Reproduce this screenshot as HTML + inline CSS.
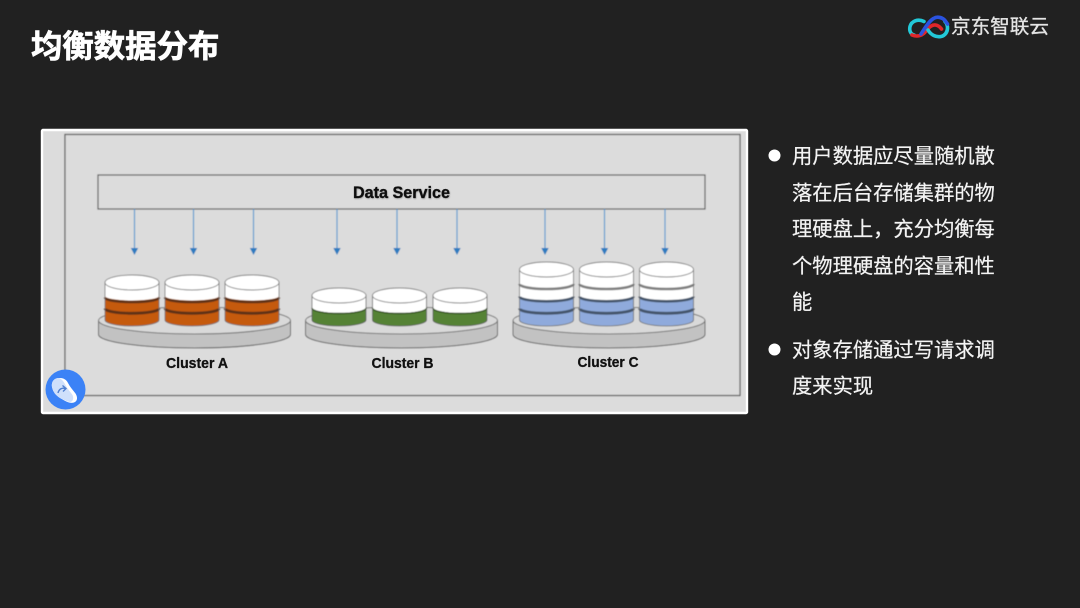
<!DOCTYPE html>
<html lang="zh">
<head>
<meta charset="utf-8">
<title>均衡数据分布</title>
<style>
html,body{margin:0;padding:0;background:#212121;}
body{width:1080px;height:608px;overflow:hidden;position:relative;}
svg{display:block;position:absolute;left:0;top:0;}
.cjk{font-family:"Liberation Sans","Noto Sans CJK SC",sans-serif;}
.lat{font-family:"Liberation Sans",sans-serif;font-weight:700;fill:#111;stroke:#111;stroke-width:.3;}
</style>
</head>
<body>
<svg width="1080" height="608" viewBox="0 0 1080 608" xmlns="http://www.w3.org/2000/svg">
<defs>
<filter id="soft" x="-2%" y="-2%" width="104%" height="104%"><feGaussianBlur stdDeviation="0.4"/></filter>
<filter id="tshadow" x="-10%" y="-30%" width="120%" height="170%"><feDropShadow dx="0.5" dy="0.7" stdDeviation="0.8" flood-color="#000" flood-opacity="0.3"/></filter>
<filter id="tsoft" x="-5%" y="-10%" width="110%" height="120%"><feGaussianBlur stdDeviation="0.25"/></filter>
<g id="arrow">
  <line x1="0" y1="209" x2="0" y2="249" stroke="#5d9ccf" stroke-width="1.2"/>
  <path d="M-3.7 248 L3.7 248 L0 255 Z" fill="#2e7cc0"/>
</g>
<g id="disk">
  <path d="M0.5 320.5 V334.5 A96 13.5 0 0 0 192.5 334.5 V320.5 Z" fill="#c2c2c2" stroke="#666" stroke-width="1"/>
  <ellipse cx="96.5" cy="320.5" rx="96" ry="13.5" fill="#d9d9d9" stroke="#777" stroke-width="1"/>
</g>
<g id="orange">
  <path d="M0 282 V320 A27 6 0 0 0 54 320 V282 Z" fill="#c55a11"/>
  <path d="M0 282 V296 A27 4.5 0 0 0 54 296 V282 Z" fill="#fff"/>
  <path d="M0 297.5 A27 4.5 0 0 0 54 297.5" fill="none" stroke="#5f3115" stroke-width="2.6"/>
  <path d="M0 308.5 A27 4.8 0 0 0 54 308.5" fill="none" stroke="#5f3115" stroke-width="2.8"/>
  <path d="M0 282 V320 A27 6 0 0 0 54 320 V282" fill="none" stroke="#6f6f6f" stroke-width="0.8"/>
  <ellipse cx="27" cy="282.5" rx="27" ry="7.5" fill="#fff" stroke="#808080" stroke-width="0.9"/>
</g>
<g id="green">
  <path d="M0 295 V320 A27 6 0 0 0 54 320 V295 Z" fill="#548235"/>
  <path d="M0 295 V307.5 A27 5.5 0 0 0 54 307.5 V295 Z" fill="#fff"/>
  <path d="M0 308 A27 5.5 0 0 0 54 308" fill="none" stroke="#33501f" stroke-width="1.4"/>
  <path d="M0 295 V320 A27 6 0 0 0 54 320 V295" fill="none" stroke="#5f5f5f" stroke-width="0.8"/>
  <ellipse cx="27" cy="295.5" rx="27" ry="7.5" fill="#fff" stroke="#808080" stroke-width="0.9"/>
</g>
<g id="blue">
  <path d="M0 270 V320 A27 6 0 0 0 54 320 V270 Z" fill="#8faadc"/>
  <path d="M0 270 V296 A27 4.5 0 0 0 54 296 V270 Z" fill="#fff"/>
  <path d="M0 284 A27 5 0 0 0 54 284" fill="none" stroke="#808080" stroke-width="2.6"/>
  <path d="M0 296.5 A27 4.8 0 0 0 54 296.5" fill="none" stroke="#44546a" stroke-width="2.6"/>
  <path d="M0 308.5 A27 4.8 0 0 0 54 308.5" fill="none" stroke="#44546a" stroke-width="2.8"/>
  <path d="M0 270 V320 A27 6 0 0 0 54 320 V270" fill="none" stroke="#6f6f6f" stroke-width="0.8"/>
  <ellipse cx="27" cy="269.5" rx="27" ry="7.5" fill="#fff" stroke="#808080" stroke-width="0.9"/>
</g>
</defs>

<rect width="1080" height="608" fill="#212121"/>

<!-- Title -->
<text class="cjk" x="31" y="57" font-size="31.4" font-weight="700" fill="#fff" stroke="#fff" stroke-width="0.7" filter="url(#tsoft)">均衡数据分布</text>

<!-- Logo -->
<g fill="none" stroke-width="3.6" stroke-linecap="round" filter="url(#tsoft)">
  <path d="M924 21.5 C918 18.5 911.5 21 910 26.5 C909 31 911 34.5 914 35" stroke="#22c9d8"/>
  <path d="M912 35 C918 37.5 923 35 926 31 C929 27 932 24.5 935.5 25 C938.5 25.5 940 27 941.5 29" stroke="#e0262c"/>
  <path d="M928 30 C931 35 936 37.5 941 36.5 C945.5 35.5 947.5 31.5 947.5 28 C947.5 25 946.5 23 945 21.5" stroke="#22c9d8"/>
  <path d="M921 34 C925 28 929 21 933.5 18.5 C937.5 16 942.5 17.5 945 20.5 L947.5 24" stroke="#2c52e0"/>
</g>
<text class="cjk" x="951" y="33" font-size="19.6" fill="#e4e4e4" stroke="#e4e4e4" stroke-width="0.3">京东智联云</text>

<!-- Panel -->
<rect x="42" y="130" width="705" height="283" fill="#dcdcdc" stroke="#fff" stroke-width="2.4" rx="1"/>
<g filter="url(#soft)">
<rect x="65" y="134.5" width="675" height="261" fill="#dcdcdc" stroke="#5f5f5f" stroke-width="1.2"/>
<rect x="98" y="175" width="607" height="34" fill="#dcdcdc" stroke="#5f5f5f" stroke-width="1.2"/>

<!-- Arrows -->
<use href="#arrow" x="134.5"/>
<use href="#arrow" x="193.5"/>
<use href="#arrow" x="253.5"/>
<use href="#arrow" x="337"/>
<use href="#arrow" x="397"/>
<use href="#arrow" x="457"/>
<use href="#arrow" x="545"/>
<use href="#arrow" x="604.5"/>
<use href="#arrow" x="665"/>

<!-- Cluster A -->
<use href="#disk" x="98"/>
<use href="#orange" x="105"/>
<use href="#orange" x="165"/>
<use href="#orange" x="225"/>

<!-- Cluster B -->
<use href="#disk" x="305"/>
<use href="#green" x="312"/>
<use href="#green" x="372.5"/>
<use href="#green" x="433"/>

<!-- Cluster C -->
<use href="#disk" x="512.5"/>
<use href="#blue" x="519.5"/>
<use href="#blue" x="579.5"/>
<use href="#blue" x="639.5"/>
</g>

<text class="lat" x="401.5" y="198" font-size="16.5" text-anchor="middle" textLength="97" lengthAdjust="spacingAndGlyphs" filter="url(#tshadow)">Data Service</text>
<text class="lat" x="197" y="368" font-size="14.5" text-anchor="middle" textLength="62" lengthAdjust="spacingAndGlyphs">Cluster A</text>
<text class="lat" x="402.5" y="368" font-size="14.5" text-anchor="middle" textLength="62" lengthAdjust="spacingAndGlyphs">Cluster B</text>
<text class="lat" x="608" y="367" font-size="14.5" text-anchor="middle" textLength="61" lengthAdjust="spacingAndGlyphs">Cluster C</text>

<!-- Badge -->
<circle cx="65.5" cy="389.5" r="20" fill="#3b82f6"/>
<path d="M52 387 C51 381 55 378 59 378 C63 378 66 379 68 383 C70 387 73 390 75.5 393.5 C77.5 396.5 78 401 74 402.5 C70 404 65 401 60 398 C56 395.5 53 392 52 387 Z" fill="#fff"/>
<path d="M52 387 C51 381 55 378 59 378 C62 379 64 382 65.5 385 C67.5 389 70.5 392 72.5 395 C74 398 73 402 70 402 C67 401.5 63 399.5 60 398 C56 395.5 53 392 52 387 Z" fill="#cfe0fb"/>
<path d="M58 393 C59 389 62 387.5 65 388.5 M62.5 385.5 L66 388.5 L63 391.5" fill="none" stroke="#4f7fd0" stroke-width="1.4"/>

<!-- Bullets -->
<circle cx="774.5" cy="155.5" r="6" fill="#fff"/>
<circle cx="774.5" cy="349.5" r="6" fill="#fff"/>
<g class="cjk" font-size="20.3" fill="#f4f4f4" stroke="#f4f4f4" stroke-width="0.2">
  <text x="792" y="163">用户数据应尽量随机散</text>
  <text x="792" y="200">落在后台存储集群的物</text>
  <text x="792" y="236">理硬盘上，充分均衡每</text>
  <text x="792" y="273">个物理硬盘的容量和性</text>
  <text x="792" y="309">能</text>
  <text x="792" y="357">对象存储通过写请求调</text>
  <text x="792" y="393">度来实现</text>
</g>
</svg>
</body>
</html>
